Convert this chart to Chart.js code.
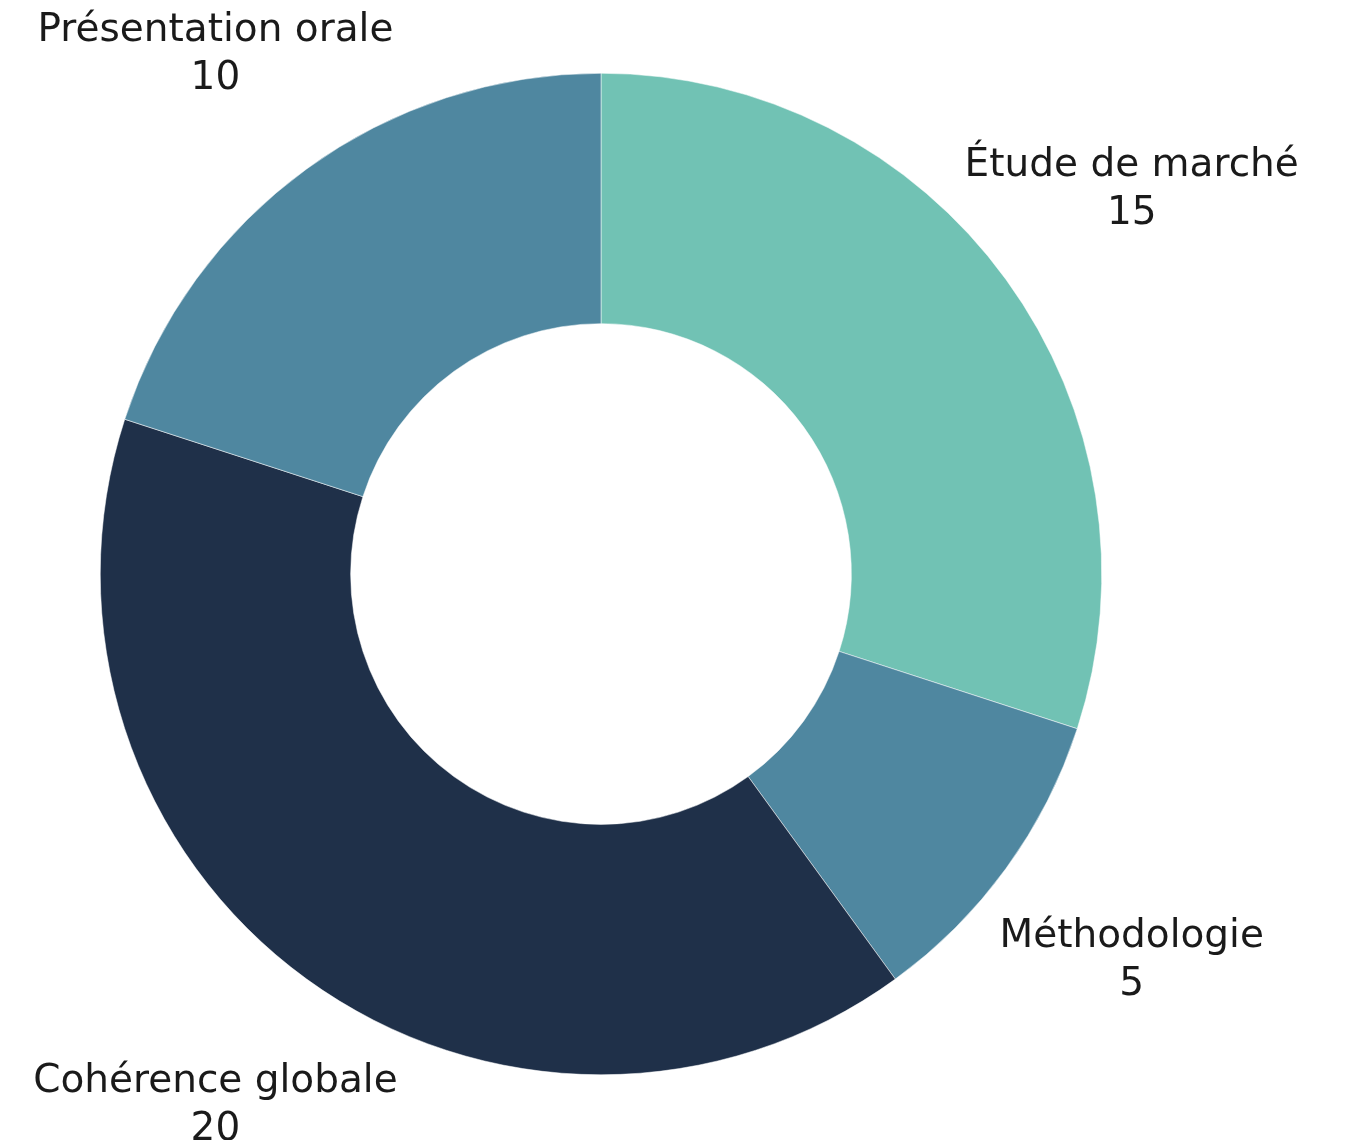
<!DOCTYPE html>
<html>
<head>
<meta charset="utf-8">
<script src="https://cdn.jsdelivr.net/npm/chart.js@4"></script>
<style>
  html, body { margin: 0; padding: 0; background: #fff; }
  #wrap { width: 1353px; height: 1140px; }
</style>
</head>
<body>
<div id="wrap"><canvas id="grades"></canvas></div>
<script>
var categories = ["Étude de marché", "Méthodologie", "Cohérence globale", "Présentation orale"];
var points = [15, 5, 20, 10];
var sliceColors = ["#71c2b4", "#4f87a0", "#1f3049", "#4f87a0"];

// draws "name / value" outside each slice, on its middle angle
var outsideLabels = {
  id: "outsideLabels",
  afterDatasetsDraw: function (chart) {
    var ctx = chart.ctx;
    var meta = chart.getDatasetMeta(0);
    ctx.save();
    ctx.fillStyle = "#1a1a1a";
    ctx.textAlign = "center";
    ctx.textBaseline = "middle";
    ctx.font = "39px 'DejaVu Sans'";
    meta.data.forEach(function (arc, i) {
      var p = arc.getProps(["x", "y", "startAngle", "endAngle", "outerRadius"], true);
      var mid = (p.startAngle + p.endAngle) / 2;
      var r = p.outerRadius * 1.31;
      var x = p.x + Math.cos(mid) * r;
      var y = p.y + Math.sin(mid) * r;
      // keep the two lines inside the canvas
      y = Math.max(y, 54);
      ctx.fillText(categories[i], x, y - 23);
      ctx.fillText(String(points[i]), x, y + 25);
    });
    ctx.restore();
  }
};

var ctx = document.getElementById("grades").getContext("2d");
var gradesChart = new Chart(ctx, {
  type: "doughnut",
  data: {
    labels: categories,
    datasets: [{
      data: points,
      backgroundColor: sliceColors,
      borderColor: "#ffffff",
      borderWidth: 0.5
    }]
  },
  options: {
    responsive: true,
    maintainAspectRatio: false,
    animation: false,
    cutout: "50%",
    layout: { padding: { top: 72, bottom: 64, left: 100, right: 251 } },
    plugins: {
      legend: { display: false },
      tooltip: { enabled: false }
    }
  },
  plugins: [outsideLabels]
});
</script>
</body>
</html>
